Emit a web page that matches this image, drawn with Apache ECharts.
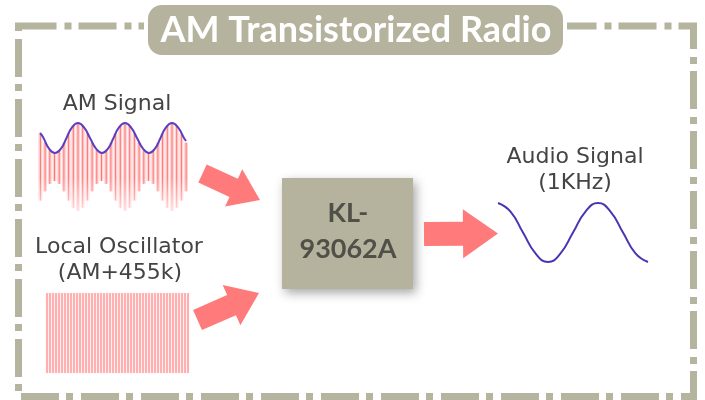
<!DOCTYPE html>
<html><head><meta charset="utf-8">
<script src="https://cdn.jsdelivr.net/npm/echarts@6/dist/echarts.min.js"></script>
<style>html,body{margin:0;padding:0;background:#fff}#c{width:705px;height:400px}</style>
</head><body><div id="c"></div>
<script>
// ---- text content ----
const titleText = 'AM Transistorized Radio';
const chipLines = ['KL-', '93062A'];
const amLabel = ['AM Signal'];
const loLabel = ['Local Oscillator', '(AM+455k)'];
const audioLabel = ['Audio Signal', '(1KHz)'];

// ---- AM signal: upper envelope (px units) ----
const amEnvX = [40, 43, 49, 55, 61, 66.5, 72, 78, 84, 90, 96, 102, 108, 113.5, 119, 125, 131, 137, 143, 149, 155, 160.5, 166, 172, 178, 184, 186];
const amEnvY = [133, 137, 148.6, 153, 148.6, 138, 127.4, 123, 127.4, 138, 148.6, 153, 148.6, 138, 127.4, 123, 127.4, 138, 148.6, 153, 148.6, 138, 127.4, 123, 127.4, 138, 141];

// ---- AM signal: carrier strokes ----
const amCarrierX = [40.4, 45.1, 49.8, 54.5, 59.2, 63.9, 68.6, 73.3, 78, 82.7, 87.4, 92.1, 96.8, 101.5, 106.2, 110.9, 115.6, 120.3, 125, 129.7, 134.4, 139.1, 143.8, 148.5, 153.2, 157.9, 162.6, 167.3, 172, 176.7, 181.4, 186.1];
const amCarrierTop = [133.4, 142.6, 150.1, 153, 150.1, 142.6, 133.4, 125.9, 123, 125.9, 133.4, 142.6, 150.1, 153, 150.1, 142.6, 133.4, 125.9, 123, 125.9, 133.4, 142.6, 150.1, 153, 150.1, 142.6, 133.4, 125.9, 123, 125.9, 133.4, 142.6];
const amCarrierBottom = [200.6, 191.4, 183.9, 181, 183.9, 191.4, 200.6, 208.1, 211, 208.1, 200.6, 191.4, 183.9, 181, 183.9, 191.4, 200.6, 208.1, 211, 208.1, 200.6, 191.4, 183.9, 181, 183.9, 191.4, 200.6, 208.1, 211, 208.1, 200.6, 191.4];

// ---- Local oscillator strokes ----
const loCarrierX = [47, 50, 53, 56, 59, 62, 65, 68, 71, 74, 77, 80, 83, 86, 89, 92, 95, 98, 101, 104, 107, 110, 113, 116, 119, 122, 125, 128, 131, 134, 137, 140, 143, 146, 149, 152, 155, 158, 161, 164, 167, 170, 173, 176, 179, 182, 185, 188];
const loCarrierTop = [293];
const loCarrierBottom = [373];

// ---- Audio signal (1 kHz) ----
const audioX = [498, 510.5, 523, 535.5, 548, 560.5, 573, 585.5, 598, 610.5, 623, 635.5, 648];
const audioY = [203, 211.6, 232.5, 253.4, 262, 253.4, 232.5, 211.6, 203, 211.6, 232.5, 253.4, 262];

// ---- styles ----
const FRAME = '#b5b49e';
const BOX = '#b5b39d';
const ARROW = '#ff7b7b';
const TXT = '#444444';
const LABEL_FONT = '"DejaVu Sans", sans-serif';
const TITLE_FONT = 'Lato, "DejaVu Sans", sans-serif';

const chart = echarts.init(document.getElementById('c'), null, {renderer: 'canvas'});

function arrowPoints(tail, tip, shaftW, headW, headL) {
  const dx = tip[0] - tail[0], dy = tip[1] - tail[1];
  const L = Math.hypot(dx, dy), ux = dx / L, uy = dy / L, nx = -uy, ny = ux;
  const bx = tip[0] - ux * headL, by = tip[1] - uy * headL;
  return [
    [tail[0] + nx * shaftW / 2, tail[1] + ny * shaftW / 2],
    [bx + nx * shaftW / 2, by + ny * shaftW / 2],
    [bx + nx * headW / 2, by + ny * headW / 2],
    tip,
    [bx - nx * headW / 2, by - ny * headW / 2],
    [bx - nx * shaftW / 2, by - ny * shaftW / 2],
    [tail[0] - nx * shaftW / 2, tail[1] - ny * shaftW / 2]
  ];
}

function strokeSeries(xs, tops, bottoms, wide, narrow) {
  const data = xs.map((x, i) => [x, tops[i % tops.length], bottoms[i % bottoms.length]]);
  return {
    type: 'custom', silent: true, data: data, z: 2,
    renderItem: function (params, api) {
      const a = api.coord([api.value(0), api.value(1)]);
      const b = api.coord([api.value(0), api.value(2)]);
      return {type: 'group', children: [
        {type: 'line', shape: {x1: a[0], y1: a[1], x2: b[0], y2: b[1]}, style: {stroke: wide.c, lineWidth: wide.w}},
        {type: 'line', shape: {x1: a[0], y1: a[1], x2: b[0], y2: b[1]}, style: {stroke: narrow.c, lineWidth: narrow.w}}
      ]};
    }
  };
}

function textEl(str, x, y, size, weight, color, family) {
  return {type: 'text', x: x, y: y, z: 20, style: {text: str, fill: color, font: weight + ' ' + size + 'px ' + family, textAlign: 'center', textVerticalAlign: 'middle'}};
}

const option = {
  animation: false,
  backgroundColor: '#ffffff',
  grid: {left: 0, right: 0, top: 0, bottom: 0},
  xAxis: {type: 'value', min: 0, max: 705, show: false},
  yAxis: {type: 'value', min: 0, max: 400, inverse: true, show: false},
  series: [
    strokeSeries(amCarrierX, amCarrierTop, amCarrierBottom, {c: 'rgba(255,180,180,0.6)', w: 3.9}, {c: 'rgba(255,75,75,0.7)', w: 1}),
    {type: 'line', smooth: 0.5, symbol: 'none', silent: true, z: 5,
     data: amEnvX.map((x, i) => [x, amEnvY[i]]), lineStyle: {color: '#5a3fc0', width: 2}},
    strokeSeries(loCarrierX, loCarrierTop, loCarrierBottom, {c: 'rgba(255,190,190,0.55)', w: 2.4}, {c: 'rgba(255,60,60,0.6)', w: 0.9}),
    {type: 'line', smooth: 0.5, symbol: 'none', silent: true, z: 5,
     data: audioX.map((x, i) => [x, audioY[i]]), lineStyle: {color: '#4b33b4', width: 2}}
  ],
  graphic: [
    {type: 'rect', z: 1, shape: {x: 18.5, y: 26, width: 675, height: 370.5}, style: {fill: 'none', stroke: FRAME, lineWidth: 7, lineDash: [38, 8, 7, 7]}},
    {type: 'rect', z: 10, silent: true, shape: {x: 36, y: 178, width: 156, height: 36},
     style: {fill: new echarts.graphic.LinearGradient(0, 0, 0, 1, [{offset: 0, color: 'rgba(255,255,255,0)'}, {offset: 1, color: 'rgba(255,255,255,0.75)'}])}},
    {type: 'rect', z: 2, shape: {x: 146, y: 3, width: 419, height: 54, r: 16}, style: {fill: BOX, stroke: '#ffffff', lineWidth: 4}},
    textEl(titleText, 356, 30, 36, 'bold', '#ffffff', TITLE_FONT),
    {type: 'rect', z: 2, shape: {x: 282, y: 178, width: 131, height: 111}, style: {fill: BOX, shadowBlur: 10, shadowColor: 'rgba(0,0,0,0.35)', shadowOffsetX: 3, shadowOffsetY: 4}},
    textEl(chipLines[0], 348, 213, 27, 'bold', '#505048', TITLE_FONT),
    textEl(chipLines[1], 348, 249, 27, 'bold', '#505048', TITLE_FONT),
    textEl(amLabel[0], 117, 104, 22, 'normal', TXT, LABEL_FONT),
    textEl(loLabel[0], 119, 247, 22, 'normal', TXT, LABEL_FONT),
    textEl(loLabel[1], 120, 273, 22, 'normal', TXT, LABEL_FONT),
    textEl(audioLabel[0], 575, 157, 22, 'normal', TXT, LABEL_FONT),
    textEl(audioLabel[1], 575, 183, 22, 'normal', TXT, LABEL_FONT),
    {type: 'polygon', z: 3, shape: {points: arrowPoints([202.5, 173.5], [260, 200], 20, 41, 29)}, style: {fill: ARROW}},
    {type: 'polygon', z: 3, shape: {points: arrowPoints([197.5, 320], [259, 293], 22, 44, 30)}, style: {fill: ARROW}},
    {type: 'polygon', z: 3, shape: {points: arrowPoints([424, 234], [498, 233.5], 24, 49, 35)}, style: {fill: ARROW}}
  ]
};
chart.setOption(option);
</script>
</body></html>
